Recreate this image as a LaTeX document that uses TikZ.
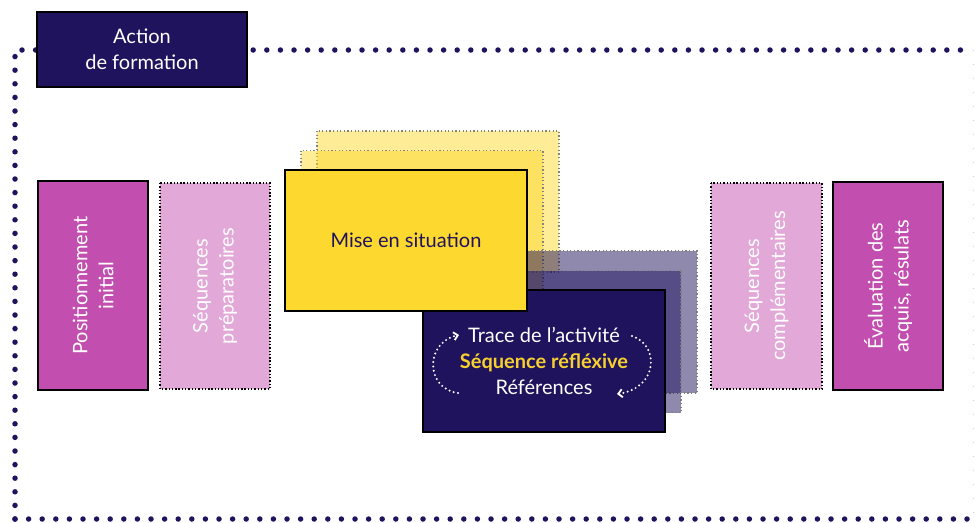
\documentclass[tikz,border=0pt]{standalone}
\usepackage{fontspec}
\setmainfont{Lato}
\usetikzlibrary{arrows.meta}

\definecolor{navy}{HTML}{20135E}
\definecolor{magen}{HTML}{C24FAF}
\definecolor{pinkl}{HTML}{E2A8D8}
\definecolor{yell}{HTML}{FDD92F}
\definecolor{yelltxt}{HTML}{F6D02E}

\begin{document}
\begin{tikzpicture}[x=1pt,y=-1pt,
    txt/.style={font=\fontsize{20}{26}\selectfont, align=center, inner sep=0pt},
    solidbox/.style={txt, draw=black, line width=1.3pt},
    dotbox/.style={txt, draw=black, line width=1.4pt, dash pattern=on 1.4pt off 1.9pt},
    ghostbox/.style={draw=gray, line width=1.2pt, dash pattern=on 1.2pt off 2.4pt},
    frameline/.style={navy, line width=5.5pt, line cap=round, dash pattern=on 0pt off 13.6pt},
    loop/.style={white, line width=2.2pt, line cap=round, dash pattern=on 0pt off 4.4pt,
        -{Straight Barb[length=4pt,width=8pt,line width=1.8pt]}}]

    \useasboundingbox (0,0) rectangle (974,522);

    % cadre
    \draw [frameline] (15,519) -- (15,50) -- (967,50);
    \draw [frameline] (15,519) -- (972,519);
    \draw [gray!40, line width=1pt, dash pattern=on 1pt off 13pt] (973,50) -- (973,519);

    \node [solidbox, fill=navy, text=white, minimum width=210, minimum height=75] (action) at (142,49.5) {Action\\de formation};

    % blocs verticaux
    \node [solidbox, fill=magen, text=white, rotate=90, minimum width=209, minimum height=110] (posinit) at (93,285.5) {Positionnement\\initial};
    \node [dotbox, fill=pinkl, text=white, rotate=90, minimum width=206, minimum height=110] (seqprep) at (215,286) {Séquences\\préparatoires};
    \node [dotbox, fill=pinkl, text=white, rotate=90, minimum width=206, minimum height=111] (seqcompl) at (766.5,286) {Séquences\\complémentaires};
    \node [solidbox, fill=magen, text=white, rotate=90, minimum width=208, minimum height=110] (evalacq) at (888,286) {Évaluation des\\acquis, résulats};

    % piles
    \draw [ghostbox, fill=yell, fill opacity=0.5] (317,131) rectangle (559,272);
    \draw [ghostbox, fill=yell, fill opacity=0.5] (301,150.5) rectangle (543,291.5);
    \draw [ghostbox, fill=navy, fill opacity=0.5] (455,251) rectangle (697,393);
    \draw [ghostbox, fill=navy, fill opacity=0.5] (439,270.5) rectangle (681,412.5);

    \node [solidbox, fill=navy, text=white, minimum width=242, minimum height=142] (seqrefl) at (544,361) {Trace de l’activité\\\textbf{\color{yelltxt}Séquence réfléxive}\\Références};
    \node [solidbox, fill=yell, text=navy, minimum width=242, minimum height=141] (misesit) at (406,240.5) {Mise en situation};

    \coordinate (la) at (458,393);
    \coordinate (lb) at (459,335);
    \coordinate (ra) at (632,336);
    \coordinate (rb) at (617,394);
    \draw [loop] (la) .. controls (426,389) and (424,343) .. (lb);
    \draw [loop] (ra) .. controls (660,345) and (658,388) .. (rb);

\end{tikzpicture}
\end{document}
